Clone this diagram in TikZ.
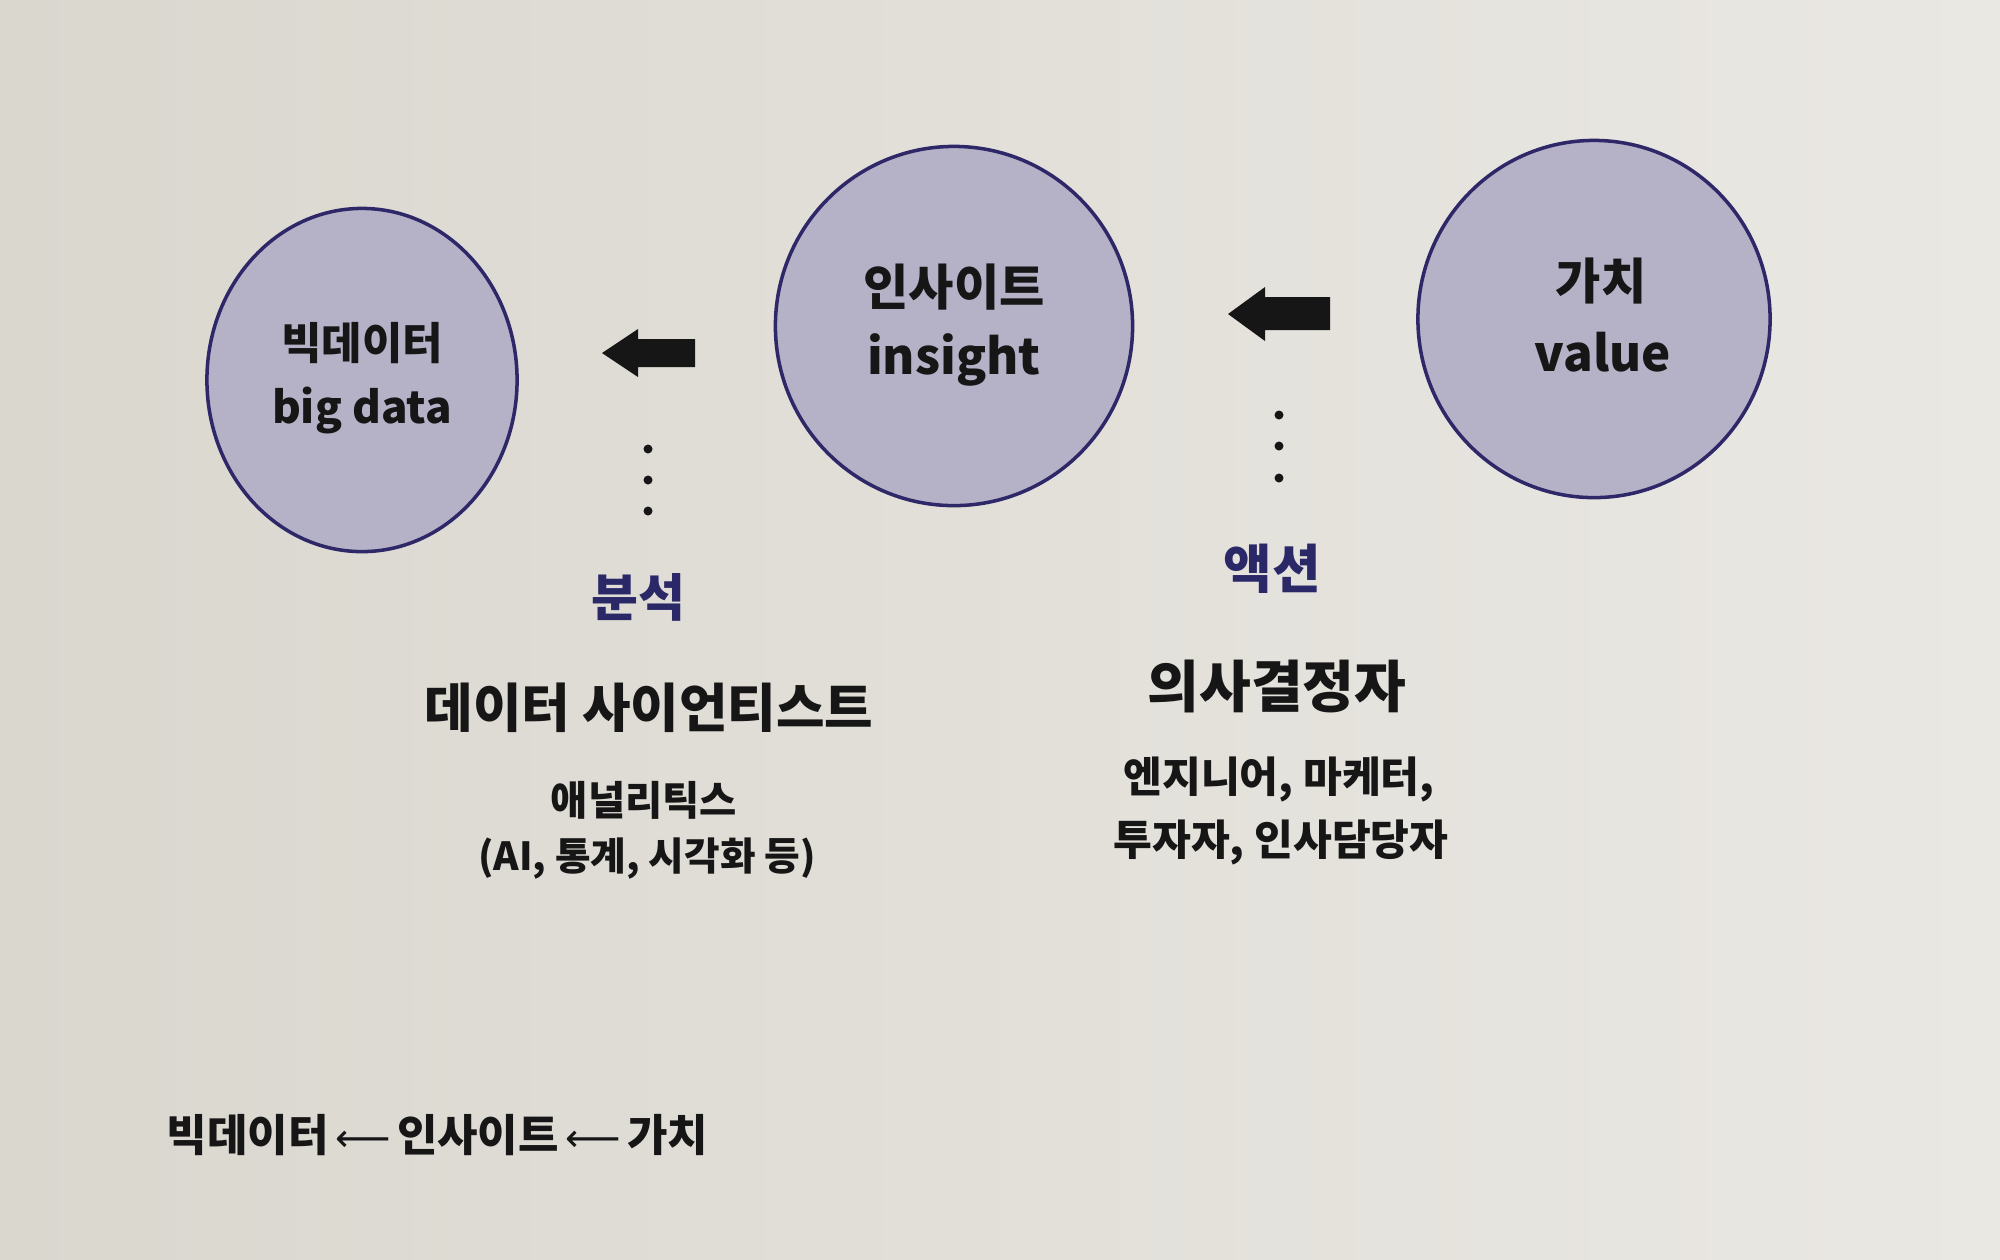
\documentclass[tikz,border=0pt]{standalone}
\usepackage{fontspec}
\setmainfont{Noto Sans CJK KR}
\newfontfamily\arrowfont{DejaVu Sans}
\usetikzlibrary{shapes.geometric}
\definecolor{paper}{HTML}{E4E1DA}
\definecolor{paperL}{HTML}{DAD7CF}
\definecolor{paperR}{HTML}{EAE8E3}
\definecolor{bubblefill}{HTML}{B5B1C7}
\definecolor{bubbleline}{HTML}{2E2868}
\definecolor{navy}{HTML}{2B2868}
\definecolor{ink}{HTML}{161616}
\newcommand{\fs}[1]{\fontsize{#1pt}{#1pt}\selectfont\bfseries}
\newcommand{\larr}{\hspace{0.15em}{\arrowfont\mdseries\fontsize{11pt}{11pt}\selectfont ⟵}\hspace{0.15em}}
\tikzset{
  bubble/.style={ellipse, draw=bubbleline, line width=1pt, fill=bubblefill, inner sep=0pt},
  lbl/.style={inner sep=0pt, text=ink, font=\bfseries},
  headlbl/.style={inner sep=0pt, text=navy},
  blockarrow/.style={fill=ink},
  dotmark/.style={circle, fill=ink, inner sep=0pt, minimum size=0.09cm}
}
\begin{document}
\begin{tikzpicture}[x=0.01cm, y=-0.01cm]
\useasboundingbox (0,0) rectangle (2000,1259);
\shade[left color=paperL, right color=paperR] (0,0) rectangle (2000,1259);

% bubbles
\node[bubble, minimum width=3.10cm, minimum height=3.43cm] (bd) at (362,380) {};
\node[bubble, minimum width=3.57cm, minimum height=3.59cm] (ins) at (954,326) {};
\node[bubble, minimum width=3.52cm, minimum height=3.57cm] (val) at (1594,319) {};

\node[lbl] (bdk) at (362,343) {\fs{12.5}빅데이터};
\node[lbl] (bde) at (362,410) {\fs{12.5}big data};
\node[lbl] (insk) at (954,287) {\fs{14}인사이트};
\node[lbl] (inse) at (954,360) {\fs{14}insight};
\node[lbl] (valk) at (1601,281) {\fs{14}가치};
\node[lbl] (vale) at (1603,352) {\fs{14}value};

% block arrows
\coordinate (a1) at (602,353);
\fill[blockarrow] (a1) -- ++(36,-24) -- ++(0,10) -- ++(57,0) -- ++(0,28) -- ++(-57,0) -- ++(0,10) -- cycle;
\coordinate (a2) at (1228,314);
\fill[blockarrow] (a2) -- ++(37,-27) -- ++(0,10) -- ++(65,0) -- ++(0,33) -- ++(-65,0) -- ++(0,11) -- cycle;

% dots
\node[dotmark] (d11) at (648,449) {};
\node[dotmark] (d12) at (648,480) {};
\node[dotmark] (d13) at (648,511) {};
\node[dotmark] (d21) at (1279,415) {};
\node[dotmark] (d22) at (1279,446) {};
\node[dotmark] (d23) at (1279,478) {};

% left column
\node[headlbl] (an) at (638,597) {\fs{14.5}분석};
\node[lbl] (ds) at (649,708) {\fs{15}데이터 사이언티스트};
\node[lbl] (anl) at (644,800) {\fs{11.5}애널리틱스};
\node[lbl] (ai) at (647,859) {\fs{11}(AI, 통계, 시각화 등)};

% right column
\node[headlbl] (ac) at (1272,569) {\fs{15}액션};
\node[lbl] (dm) at (1277,686) {\fs{16}의사결정자};
\node[lbl] (en) at (1279,779) {\fs{12}엔지니어, 마케터,};
\node[lbl] (inv) at (1281,842) {\fs{12}투자자, 인사담당자};

% bottom line
\node[lbl, anchor=west] (bottom) at (166,1135) {\fs{12.5}빅데이터\larr 인사이트\larr 가치};
\end{tikzpicture}
\end{document}
